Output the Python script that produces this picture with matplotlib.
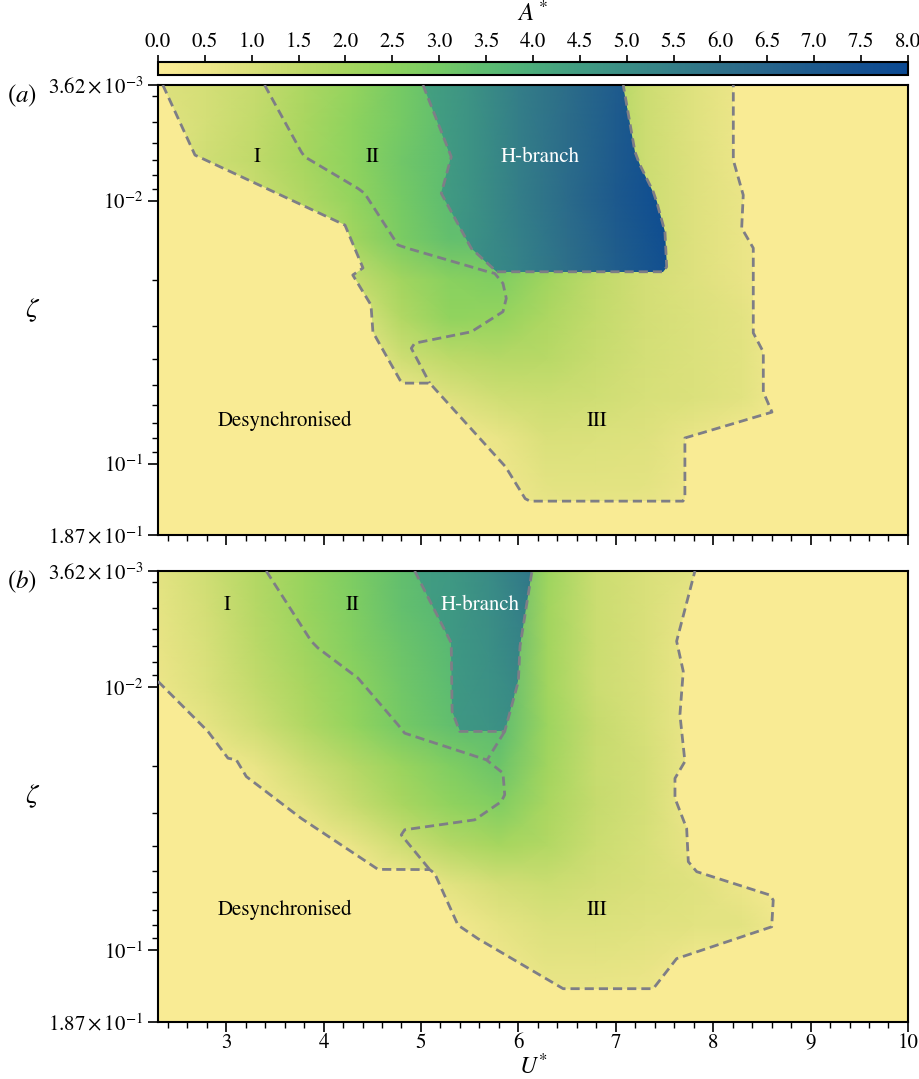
import numpy as np
import matplotlib
matplotlib.use("Agg")
import matplotlib.pyplot as plt
from matplotlib.colors import LinearSegmentedColormap, Normalize
from matplotlib.cm import ScalarMappable
from matplotlib.patches import Polygon
from matplotlib.ticker import FixedLocator, FixedFormatter, MultipleLocator, NullFormatter

plt.rcParams["font.family"] = "STIXGeneral"
plt.rcParams["mathtext.fontset"] = "stix"

U_MIN, U_MAX = 2.3, 10.0
ZETA_MIN, ZETA_MAX = 3.62e-3, 1.87e-1

# colour scale for A*, one colour every 0.5
cmap_levels = np.arange(0.0, 8.01, 0.5)
cmap_colours = ["#FBEC96", "#EEE68A", "#D9E07A", "#C0DA6A", "#A7D65F", "#8ED35E",
                "#76CA65", "#5DBC71", "#4BAC7B", "#419C82", "#3A8D86", "#347F88",
                "#2E7089", "#27658B", "#1D5A8D", "#145090", "#0B4A93"]

# amplitude grid (rows follow zeta_grid, columns follow u_grid)
u_grid = [2.3, 2.8, 3.3, 3.8, 4.3, 4.8, 5.3, 5.8, 6.3, 6.8, 7.3, 7.8, 8.3, 8.8, 9.4, 10.0]
zeta_grid = [3.62e-3, 5e-3, 7e-3, 1e-2, 1.4e-2, 2e-2, 2.8e-2, 4e-2, 5.6e-2, 8e-2, 1.2e-1, 1.87e-1]

amp_a = [
    [0.9, 1.1, 1.4, 1.9, 2.4, 3.0, 3.5, 3.5, 3.0, 2.0, 1.25, 0.85, 0.5, 0.15, 0.1, 0.1],
    [0.8, 1.1, 1.45, 1.95, 2.5, 3.0, 3.5, 3.5, 3.0, 2.0, 1.25, 0.85, 0.5, 0.15, 0.1, 0.1],
    [0.7, 1.2, 1.5, 2.0, 2.5, 3.1, 3.5, 3.5, 3.0, 2.0, 1.25, 0.9, 0.55, 0.15, 0.1, 0.1],
    [0.3, 0.6, 1.3, 1.8, 2.4, 3.0, 3.5, 3.5, 3.0, 2.0, 1.25, 0.9, 0.6, 0.15, 0.1, 0.1],
    [0.2, 0.3, 0.6, 1.2, 2.1, 2.9, 3.4, 3.4, 3.0, 2.0, 1.3, 0.9, 0.6, 0.15, 0.1, 0.1],
    [0.15, 0.2, 0.3, 0.6, 1.4, 2.1, 2.6, 2.8, 2.1, 1.5, 1.15, 0.9, 0.65, 0.2, 0.1, 0.1],
    [0.1, 0.15, 0.2, 0.3, 0.8, 1.8, 2.45, 2.35, 1.85, 1.45, 1.15, 0.95, 0.75, 0.2, 0.1, 0.1],
    [0.1, 0.1, 0.15, 0.2, 0.3, 1.2, 1.55, 1.7, 1.65, 1.35, 1.1, 0.95, 0.8, 0.2, 0.1, 0.1],
    [0.1, 0.1, 0.1, 0.15, 0.2, 0.4, 0.9, 1.2, 1.3, 1.2, 1.05, 0.95, 0.8, 0.2, 0.1, 0.1],
    [0.1, 0.1, 0.1, 0.1, 0.15, 0.2, 0.3, 0.6, 1.0, 0.95, 0.9, 0.6, 0.3, 0.15, 0.1, 0.1],
    [0.1, 0.1, 0.1, 0.1, 0.1, 0.15, 0.2, 0.4, 0.75, 0.8, 0.75, 0.5, 0.2, 0.1, 0.1, 0.1],
    [0.1, 0.1, 0.1, 0.1, 0.1, 0.1, 0.15, 0.3, 0.5, 0.5, 0.45, 0.3, 0.15, 0.1, 0.1, 0.1],
]

amp_b = [
    [0.75, 1.2, 1.75, 2.3, 2.85, 3.4, 3.8, 3.8, 2.2, 1.3, 1.0, 0.8, 0.2, 0.1, 0.1, 0.1],
    [0.7, 1.15, 1.7, 2.25, 2.8, 3.35, 3.7, 3.7, 2.1, 1.3, 1.0, 0.65, 0.2, 0.1, 0.1, 0.1],
    [0.65, 1.05, 1.6, 2.15, 2.7, 3.2, 3.6, 3.7, 2.1, 1.3, 1.0, 0.55, 0.2, 0.1, 0.1, 0.1],
    [0.55, 0.95, 1.45, 1.95, 2.5, 3.1, 3.5, 3.6, 2.1, 1.25, 1.0, 0.55, 0.2, 0.1, 0.1, 0.1],
    [0.3, 0.7, 1.2, 1.8, 2.4, 3.0, 3.4, 3.5, 2.2, 1.4, 1.05, 0.55, 0.2, 0.1, 0.1, 0.1],
    [0.15, 0.3, 0.6, 1.2, 1.7, 2.25, 2.8, 3.2, 2.1, 1.35, 1.1, 0.55, 0.2, 0.1, 0.1, 0.1],
    [0.1, 0.2, 0.3, 0.75, 1.35, 1.95, 2.45, 2.75, 1.95, 1.4, 1.1, 0.5, 0.2, 0.1, 0.1, 0.1],
    [0.1, 0.1, 0.15, 0.2, 0.6, 1.2, 1.7, 2.0, 1.75, 1.3, 1.05, 0.65, 0.3, 0.1, 0.1, 0.1],
    [0.1, 0.1, 0.1, 0.15, 0.2, 0.3, 0.8, 1.15, 1.3, 1.15, 1.0, 0.85, 0.55, 0.15, 0.1, 0.1],
    [0.1, 0.1, 0.1, 0.1, 0.15, 0.2, 0.3, 0.7, 0.95, 0.95, 0.85, 0.8, 0.75, 0.3, 0.1, 0.1],
    [0.1, 0.1, 0.1, 0.1, 0.1, 0.15, 0.2, 0.35, 0.7, 0.7, 0.65, 0.3, 0.2, 0.1, 0.1, 0.1],
    [0.1, 0.1, 0.1, 0.1, 0.1, 0.1, 0.15, 0.3, 0.45, 0.45, 0.35, 0.2, 0.1, 0.1, 0.1, 0.1],
]

# H-branch amplitudes
hb_u_a = [5.0, 5.5, 6.0, 6.5, 7.0, 7.6]
hb_zeta_a = [3.62e-3, 1e-2, 1.9e-2]
hb_amp_a = [
    [4.3, 4.8, 5.5, 6.1, 6.9, 8.0],
    [4.3, 4.8, 5.5, 6.2, 7.0, 8.0],
    [4.4, 4.9, 5.4, 6.0, 6.8, 7.7],
]
hb_u_b = [4.9, 5.3, 5.7, 6.2]
hb_zeta_b = [3.62e-3, 8e-3, 1.5e-2]
hb_amp_b = [
    [4.4, 4.6, 5.0, 5.9],
    [4.4, 4.6, 4.9, 5.5],
    [4.4, 4.6, 4.8, 5.1],
]

desync_level = 0.1

# regime boundaries as (U*, zeta)
sync_edge_a = [(2.35, 3.62e-3), (2.68, 6.69e-3), (4.22, 1.236e-2), (4.405, 1.80e-2),
               (4.30, 1.915e-2), (4.487, 2.49e-2), (4.507, 3.16e-2), (4.785, 4.81e-2),
               (4.82, 4.94e-2), (5.09, 4.94e-2), (5.87, 0.103), (6.07, 0.136),
               (6.12, 0.139), (7.69, 0.139), (7.71, 0.135), (7.71, 0.0799),
               (8.604, 0.0637), (8.515, 0.0534), (8.515, 0.0376), (8.412, 0.0318),
               (8.412, 0.01512), (8.293, 0.01269), (8.309, 0.0095), (8.207, 6.99e-3),
               (8.207, 3.62e-3)]
edge_I_II_a = [(3.395, 3.62e-3), (3.771, 6.50e-3), (3.806, 6.79e-3), (4.353, 8.96e-3),
               (4.422, 9.36e-3), (4.764, 1.472e-2), (4.867, 1.516e-2), (5.688, 1.861e-2),
               (5.757, 1.887e-2), (5.842, 2.06e-2), (5.876, 2.35e-2), (5.842, 2.64e-2),
               (5.517, 3.15e-2), (4.936, 3.48e-2), (4.901, 3.64e-2), (5.09, 4.94e-2)]
hbranch_edge_a = [(5.021, 3.62e-3), (5.311, 6.79e-3), (5.209, 9.36e-3), (5.517, 1.516e-2),
                  (5.722, 1.781e-2), (5.78, 1.861e-2), (7.488, 1.861e-2), (7.523, 1.781e-2),
                  (7.505, 1.31e-2), (7.42, 1.007e-2), (7.385, 9.23e-3), (7.249, 7.30e-3),
                  (7.197, 6.50e-3), (7.077, 3.62e-3)]

sync_edge_b = [(2.30, 9.5e-3), (2.813, 1.472e-2), (3.019, 1.861e-2), (3.104, 1.887e-2),
               (3.207, 2.185e-2), (3.771, 3.15e-2), (4.559, 4.92e-2), (5.09, 4.93e-2),
               (5.141, 5.10e-2), (5.38, 8.01e-2), (5.585, 9.02e-2), (6.46, 0.1397),
               (7.385, 0.1397), (7.625, 0.1074), (8.601, 8.13e-2), (8.617, 6.44e-2),
               (8.583, 6.16e-2), (7.831, 5.02e-2), (7.745, 4.60e-2), (7.728, 3.44e-2),
               (7.608, 2.64e-2), (7.608, 2.22e-2), (7.71, 1.915e-2), (7.659, 1.272e-2),
               (7.693, 8.70e-3), (7.625, 6.69e-3), (7.813, 3.62e-3)]
edge_I_II_b = [(3.412, 3.62e-3), (3.874, 6.69e-3), (3.943, 7.10e-3), (4.353, 9.23e-3),
               (4.764, 1.389e-2), (4.833, 1.495e-2), (5.671, 1.887e-2), (5.842, 2.12e-2),
               (5.86, 2.56e-2), (5.825, 2.72e-2), (5.552, 3.19e-2), (4.833, 3.48e-2),
               (4.798, 3.64e-2), (5.09, 4.93e-2)]
hbranch_edge_b = [(4.936, 3.62e-3), (5.311, 6.79e-3), (5.32, 1.236e-2), (5.398, 1.472e-2),
                  (5.86, 1.472e-2), (6.0, 9.5e-3), (6.017, 6.99e-3), (6.14, 3.62e-3)]
hbranch_link_b = [(5.86, 1.472e-2), (5.68, 1.887e-2)]

region_names = ["I", "II", "H-branch", "Desynchronised", "III"]
region_pos_a = [(3.316, 6.81e-3), (4.507, 6.81e-3), (6.22, 6.81e-3), (3.60, 6.89e-2), (6.807, 6.89e-2)]
region_pos_b = [(3.008, 4.88e-3), (4.302, 4.88e-3), (5.606, 4.88e-3), (3.60, 7.01e-2), (6.807, 7.01e-2)]

cmap = LinearSegmentedColormap.from_list(
    "amp", list(zip(cmap_levels / cmap_levels[-1], cmap_colours)))
norm = Normalize(0.0, 8.0)

LINE_KW = dict(color="#7e7e86", lw=2.0, ls="--", dashes=(3.3, 1.8), zorder=5)


def draw_panel(ax, amp, hb_u, hb_zeta, hb_amp, sync_edge, edge_I_II, hb_edge, extra_lines, label_pos):
    # desynchronised background
    ax.pcolormesh([U_MIN, U_MAX], [ZETA_MIN, ZETA_MAX], [[desync_level]],
                  cmap=cmap, norm=norm, shading="flat", zorder=0)

    # synchronised regimes, clipped to the region above the desync boundary
    uu, zz = np.meshgrid(u_grid, zeta_grid)
    mesh = ax.pcolormesh(uu, zz, np.array(amp), cmap=cmap, norm=norm,
                         shading="gouraud", zorder=1)
    sync_poly = Polygon(sync_edge + [(U_MIN, ZETA_MIN)], closed=True, transform=ax.transData)
    mesh.set_clip_path(sync_poly)

    # H-branch
    hu, hz = np.meshgrid(hb_u, hb_zeta)
    hmesh = ax.pcolormesh(hu, hz, np.array(hb_amp), cmap=cmap, norm=norm,
                          shading="gouraud", zorder=2)
    hb_poly = Polygon(hb_edge, closed=True, transform=ax.transData)
    hmesh.set_clip_path(hb_poly)

    for line in [sync_edge, edge_I_II, hb_edge] + extra_lines:
        u, z = zip(*line)
        ax.plot(u, z, **LINE_KW)

    for name, (u, z) in zip(region_names, label_pos):
        ax.text(u, z, name, ha="center", va="center", fontsize=15,
                color="white" if name == "H-branch" else "black", zorder=6)

    ax.set_yscale("log")
    ax.set_xlim(U_MIN, U_MAX)
    ax.set_ylim(ZETA_MAX, ZETA_MIN)

    ax.yaxis.set_major_locator(FixedLocator([3.62e-3, 1e-2, 1e-1, 1.87e-1]))
    ax.yaxis.set_major_formatter(FixedFormatter(
        [r"$3.62\times10^{-3}$", r"$10^{-2}$", r"$10^{-1}$", r"$1.87\times10^{-1}$"]))
    minor = [k * 1e-3 for k in range(4, 10)] + [k * 1e-2 for k in range(2, 10)]
    ax.yaxis.set_minor_locator(FixedLocator(minor))
    ax.yaxis.set_minor_formatter(NullFormatter())

    ax.xaxis.set_major_locator(FixedLocator(list(range(3, 11))))
    ax.xaxis.set_minor_locator(MultipleLocator(0.2))

    ax.tick_params(which="major", direction="out", length=7, width=1.2, labelsize=15)
    ax.tick_params(which="minor", direction="out", length=4, width=1.0)
    for sp in ax.spines.values():
        sp.set_linewidth(1.5)

    ax.set_ylabel(r"$\zeta$", rotation=0, fontsize=20, va="center")
    ax.yaxis.set_label_coords(-0.167, 0.5)


fig = plt.figure(figsize=(9.2, 10.79), dpi=100)
ax_a = fig.add_axes([0.1717, 0.5042, 0.8152, 0.4170])
ax_b = fig.add_axes([0.1717, 0.0528, 0.8152, 0.4180])

draw_panel(ax_a, amp_a, hb_u_a, hb_zeta_a, hb_amp_a, sync_edge_a, edge_I_II_a,
           hbranch_edge_a, [], region_pos_a)
draw_panel(ax_b, amp_b, hb_u_b, hb_zeta_b, hb_amp_b, sync_edge_b, edge_I_II_b,
           hbranch_edge_b, [hbranch_link_b], region_pos_b)

ax_a.tick_params(axis="x", labelbottom=False)
ax_b.tick_params(axis="x", pad=1)
ax_b.text(0.5, -0.071, r"$U^{*}$", transform=ax_b.transAxes, fontsize=17,
          ha="center", va="top")

for ax, tag in [(ax_a, "(a)"), (ax_b, "(b)")]:
    ax.text(-0.181, 0.975, r"$(" + tag[1] + ")$", transform=ax.transAxes,
            fontsize=18, ha="center", va="center")

cax = fig.add_axes([0.1717, 0.9305, 0.8152, 0.0125])
cb = fig.colorbar(ScalarMappable(norm=norm, cmap=cmap), cax=cax, orientation="horizontal")
cb.set_ticks(cmap_levels)
cb.set_ticklabels([f"{v:.1f}" for v in cmap_levels])
cax.xaxis.set_ticks_position("top")
cax.xaxis.set_label_position("top")
cax.tick_params(direction="out", length=5, width=1.2, labelsize=15, pad=2)
cb.outline.set_linewidth(1.5)
cb.set_label(r"$A^*$", fontsize=18, labelpad=8)

fig.savefig("out.png", dpi=100)
